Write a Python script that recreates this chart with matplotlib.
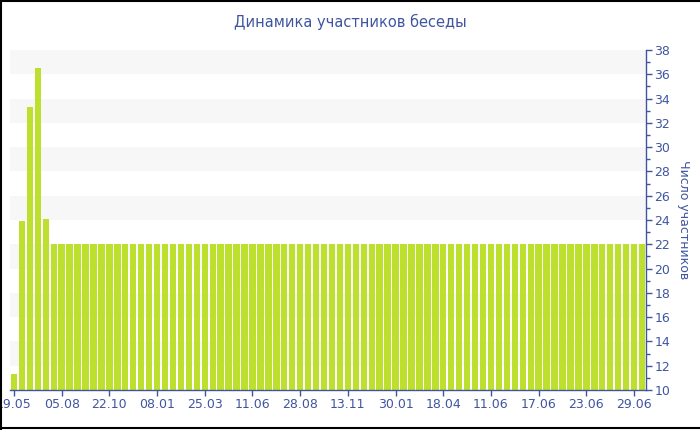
import matplotlib.pyplot as plt
from matplotlib.ticker import MultipleLocator
from matplotlib.lines import Line2D

# participants per period (80 bars)
heights = [11.3, 23.9, 33.3, 36.5, 24.1] + [22] * 75
tick_labels = ["19.05", "05.08", "22.10", "08.01", "25.03", "11.06", "28.08",
               "13.11", "30.01", "18.04", "11.06", "17.06", "23.06", "29.06"]
tick_step = 6

blue = "#3f55a0"
green = "#bde02e"

fig = plt.figure(figsize=(7, 4.3), dpi=100)
ax = fig.add_axes([10 / 700, 40 / 430, 636 / 700, 340 / 430])

# alternating background bands
for y0 in range(12, 38, 4):
    ax.axhspan(y0, y0 + 2, color="#f7f7f7", zorder=0, lw=0)

x = list(range(len(heights)))
ax.bar(x, heights, width=0.8, color=green, zorder=2)

ax.set_xlim(-0.5, len(heights) - 0.5)
ax.set_ylim(10, 38)
ax.set_xticks(x[::tick_step][:len(tick_labels)])
ax.set_xticklabels(tick_labels)

ax.yaxis.tick_right()
ax.yaxis.set_label_position("right")
ax.yaxis.set_major_locator(MultipleLocator(2))
ax.yaxis.set_minor_locator(MultipleLocator(1))
ax.set_ylabel("Число участников", rotation=270, color=blue, fontsize=9, labelpad=14)

for s in ["left", "top"]:
    ax.spines[s].set_visible(False)
for s in ["right", "bottom"]:
    ax.spines[s].set_color(blue)
    ax.spines[s].set_linewidth(1)

ax.tick_params(axis="both", colors=blue, labelsize=9, length=4, width=1, pad=2)
ax.tick_params(axis="y", which="minor", colors=blue, length=3, width=1)
ax.tick_params(axis="x", pad=2)

fig.text(0.5, 1 - 22 / 430, "Динамика участников беседы", ha="center", va="center",
         color=blue, fontsize=10.5)

# frame around the chart
for xs, ys in [([0.001, 0.001], [0, 1]), ([0, 1], [0.998, 0.998]), ([0, 1], [0.004, 0.004])]:
    fig.add_artist(Line2D(xs, ys, color="black", lw=1.5, transform=fig.transFigure))

fig.savefig("out.png", dpi=100)
